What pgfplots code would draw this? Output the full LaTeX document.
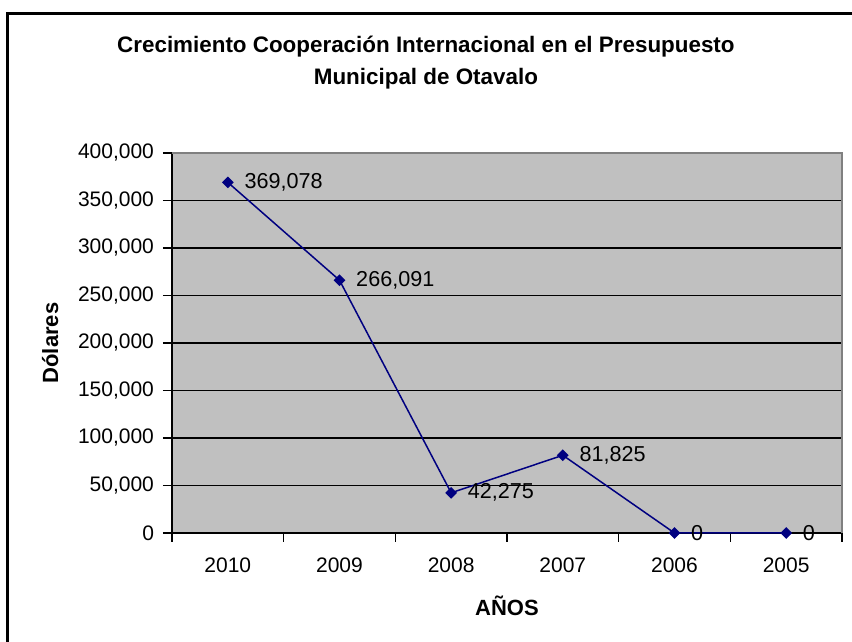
\documentclass[border=0pt]{standalone}
\usepackage{pgfplots}
\pgfplotsset{compat=1.18}
\usepackage{fontspec}
\setmainfont{Liberation Sans}
\definecolor{plotgray}{HTML}{C0C0C0}
\definecolor{navyline}{HTML}{000080}
\definecolor{bordergray}{HTML}{808080}
\begin{document}
\begin{tikzpicture}
\useasboundingbox (-86pt,-54.5pt) rectangle (340pt,266.5pt);
\draw[line width=1.5pt] (-82.25pt,-60pt) -- (-82.25pt,259.5pt) -- (345pt,259.5pt);
\begin{axis}[
  at={(0,0)}, anchor=south west,
  width=335pt, height=190pt, scale only axis,
  xmin=-0.5, xmax=5.5, ymin=0, ymax=400000,
  clip=false,
  axis background/.style={fill=plotgray},
  axis x line*=bottom, axis y line*=left,
  axis line style={black, line width=1pt},
  xtick={-0.5,0.5,...,5.5},
  xticklabels={2010,2009,2008,2007,2006,2005},
  x tick label as interval,
  ytick={0,50000,...,400000},
  scaled y ticks=false,
  yticklabel={\pgfmathprintnumber[fixed,precision=0,1000 sep={,},assume math mode=true]{\tick}},
  ymajorgrids,
  major grid style={black, line width=0.8pt},
  tick align=outside,
  major tick length=4.5pt,
  tick style={black, line width=0.8pt},
  tick label style={font=\fontsize{10.5}{12}\selectfont},
  xticklabel style={yshift=-4.5pt},
  yticklabel style={xshift=-1pt},
  xlabel={\textbf{AÑOS}},
  xlabel style={at={(axis description cs:0.5,-0.192)}, anchor=center, font=\fontsize{11}{12}\selectfont},
  ylabel={\textbf{Dólares}},
  ylabel style={at={(axis description cs:-0.182,0.5)}, anchor=center, font=\fontsize{11}{12}\selectfont},
  title={\textbf{Crecimiento Cooperación Internacional en el Presupuesto}\\\textbf{Municipal de Otavalo}},
  title style={at={(axis description cs:0.379,1.207)}, anchor=center, align=center, font=\fontsize{11.2}{16}\selectfont},
]
\addplot[navyline, line width=0.75pt, mark=square*, mark size=1.7pt,
  mark options={rotate=45, fill=navyline, draw=navyline},
  nodes near coords={\pgfmathprintnumber[fixed,precision=0,1000 sep={,},assume math mode=true]{\pgfplotspointmeta}},
  nodes near coords style={anchor=west, inner sep=0pt, xshift=8pt, text=black, font=\fontsize{10.8}{12}\selectfont},
  point meta=explicit symbolic]
  coordinates {(0,369078) [369078] (1,266091) [266091] (2,42275) [42275] (3,81825) [81825] (4,0) [0] (5,0) [0]};
\draw[bordergray, line width=1pt] (rel axis cs:0,1) -- (rel axis cs:1,1) -- (rel axis cs:1,0);
\end{axis}
\end{tikzpicture}
\end{document}
